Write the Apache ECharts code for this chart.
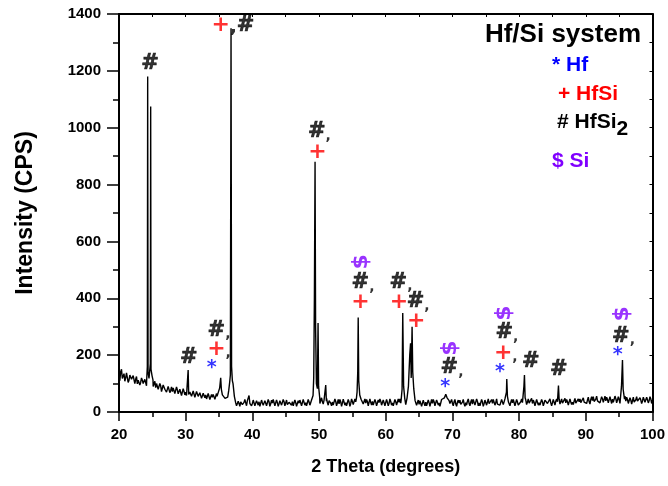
<!DOCTYPE html>
<html><head><meta charset="utf-8">
<script src="https://cdn.jsdelivr.net/npm/echarts@6/dist/echarts.min.js"></script>
<style>html,body{margin:0;padding:0;background:#fff}#c{width:668px;height:486px}</style>
</head><body><div id="c"></div>
<script>
// Baseline intensity, 0.25 degree steps from 20 to 100
var baseStart = 20, baseStep = 0.25;
var baseline = [
128,142,118,135, 120,131,112,126, 108,122,115,99, 118,104,112,96, 110,100,115,108,
102,95,86,98, 84,92,79,88, 82,74,86,76, 72,84,70,78, 66,75,62,72,
70,64,58,68, 62,70,58,66, 56,64,52,60, 60,50,58,48, 52,60,50,58,
55,62,58,54, 58,52,50,60, 45,38,32,28, 30,36,26,34, 32,40,58,36,
30,35,28,33, 36,27,32,30, 34,28,36,29, 31,37,27,33, 29,35,30,36,
32,26,34,30, 36,29,33,27, 31,38,28,34, 33,27,35,30, 37,32,38,34,
48,40,36,42, 38,33,40,31, 35,30,37,32, 29,36,31,38, 33,28,35,30,
37,31,36,40, 42,48,38,34, 31,36,29,34, 37,30,35,28, 33,38,30,36,
29,34,31,37, 32,28,36,30, 34,31,38,36, 28,34,40,44, 48,42,35,30,
27,33,25,31, 35,28,33,26, 30,36,29,34, 32,27,38,42, 55,46,38,33,
30,36,28,34, 31,27,35,29, 33,38,30,35, 28,34,31,37, 32,27,35,30,
36,31,29,34, 30,37,33,28, 35,31,38,33, 40,36,30,34, 32,37,29,35,
31,36,33,38, 42,35,31,36, 30,34,28,37, 33,29,36,31, 35,30,37,32,
29,34,38,36, 40,34,31,37, 32,36,30,35, 34,38,31,37, 36,33,40,35,
38,42,36,44, 40,37,45,39, 43,38,46,41, 39,44,37,42, 45,40,47,42,
44,48,43,47, 38,44,36,42, 40,35,43,38, 36,42,39,45, 38,43,40,46,
42
];
// Intermediate baseline readings, 0.25 degree steps from 20.125
var midStart = 20.125;
var baselineMid = [
110,150,125,108, 138,104,130,115, 128,100,125,112, 95,120,100,115, 92,100,100,100,
90,108,100,80, 100,72,95,80, 70,90,68,88, 85,65,88,64, 80,58,82,60,
58,80,70,55, 74,52,72,55, 68,48,66,50, 46,65,44,62, 62,45,65,45,
60,50,66,48, 48,64,44,40, 30,45,22,38, 20,42,24,44, 22,46,30,22,
42,22,40,24, 20,42,24,40, 22,44,20,42, 44,22,42,20, 40,24,44,22,
42,20,40,24, 22,42,20,40, 42,22,44,24, 22,44,24,42, 26,44,26,48,
30,50,28,48, 48,24,46,22, 24,46,22,44, 44,20,45,24, 22,44,20,46,
26,46,26,50, 34,52,28,46, 44,22,46,24, 24,44,22,42, 46,24,42,22,
44,22,46,24, 22,44,24,46, 46,24,44,26, 40,22,48,36, 36,52,24,42,
40,20,42,22, 22,42,20,44, 44,22,42,24, 20,44,26,48, 44,58,30,44,
22,44,20,42, 42,22,44,20, 24,46,22,44, 44,24,46,22, 22,44,20,42,
24,46,22,44, 44,24,46,22, 24,44,26,46, 28,46,22,44, 44,22,44,24,
22,46,24,48, 26,46,24,48, 42,22,44,24, 24,44,22,42, 44,24,46,22,
44,24,46,28, 28,46,24,48, 44,24,46,26, 26,48,24,46, 46,26,50,28,
30,52,28,54, 54,30,56,32, 32,54,34,56, 52,32,54,30, 34,56,32,54,
30,58,34,56, 52,30,50,28, 52,30,54,32, 50,30,52,34, 52,32,54,30
];
// Diffraction peaks [2theta, intensity]
var peak24 = [[24.15,112],[24.25,160],[24.3,1180],[24.36,140],[24.5,118],[24.65,125],[24.7,170],[24.75,1075],[24.8,150],[24.95,128],[25.1,112]];
var peak30 = [[30.3,64],[30.37,148],[30.45,62]];
var peak35 = [[34.7,55],[34.9,70],[35.1,85],[35.25,120],[35.35,80],[35.5,60],[35.7,55],[35.9,48],[36.1,45],[36.3,52]];
var peak37 = [[36.45,75],[36.6,105],[36.7,130],[36.8,1350],[36.88,160],[37.0,110],[37.1,100],[37.3,55],[37.5,32]];
var peak49 = [[49.1,58],[49.2,120],[49.3,400],[49.4,880],[49.48,300],[49.6,100],[49.75,82],[49.85,313],[49.93,90],[50.1,50]];
var peak51 = [[50.9,40],[51.0,95],[51.1,38]];
var peak56 = [[55.6,48],[55.7,70],[55.8,140],[55.87,332],[55.95,110],[56.1,60],[56.3,45]];
var peak63 = [[62.3,40],[62.45,80],[62.55,348],[62.68,90],[62.85,48],[63.0,26],[63.2,50],[63.4,90],[63.6,200],[63.72,242],[63.82,120],[63.95,300],[64.05,140],[64.2,82],[64.4,40]];
var peak69 = [[68.6,40],[68.8,50],[69.0,62],[69.2,50],[69.5,40]];
var peak78 = [[78.0,40],[78.1,70],[78.15,116],[78.25,55],[78.4,35]];
var peak81 = [[80.6,40],[80.72,90],[80.8,130],[80.9,50]];
var peak86 = [[85.8,40],[85.9,93],[86.0,45]];
var peak95 = [[95.2,50],[95.35,90],[95.5,183],[95.6,80],[95.8,45]];
var peaks = [peak24,peak30,peak35,peak37,peak49,peak51,peak56,peak63,peak69,peak78,peak81,peak86,peak95];

// Phase annotations [2theta, intensity, text]
var annotations = [
  [24.64,1224,'{h|#}'],
  [37.1,1361,'{p|+}{k|,}{h|#}'],
  [30.47,193,'{h|#}'],
  [35.0,288,'{h|#}{c|,}'],
  [35.0,222,'{p|+}{c|,}'],
  [33.9,155,'{s|*}'],
  [50.05,985,'{h|#}{c|,}'],
  [49.76,915,'{p|+}'],
  [56.6,454,'{h|#}{c|,}'],
  [56.2,387,'{p|+}'],
  [62.3,457,'{h|#}{c|,}'],
  [62.0,387,'{p|+}'],
  [64.86,387,'{h|#}{c|,}'],
  [64.56,320,'{p|+}'],
  [69.94,155,'{h|#}{c|,}'],
  [68.9,88,'{s|*}'],
  [78.17,278,'{h|#}{c|,}'],
  [78.0,207,'{p|+}{c|,}'],
  [77.12,141,'{s|*}'],
  [81.76,179,'{h|#}'],
  [85.94,148,'{h|#}'],
  [95.66,267,'{h|#}{c|,}'],
  [94.77,200,'{s|*}']
];
// Si markers [2theta, intensity]
var siMarks = [[56.34,528],[69.64,225],[77.72,348],[95.51,345]];
var xTicks = [20,30,40,50,60,70,80,90,100];
var yTicks = [0,200,400,600,800,1000,1200,1400];

// Build the pattern
var pts = [];
function addBase(arr, start){
  arr.forEach(function(v,i){
    var x = start + i*baseStep;
    var inside = peaks.some(function(p){ return x >= p[0][0] && x <= p[p.length-1][0]; });
    if(!inside) pts.push([x,v]);
  });
}
addBase(baseline, baseStart);
addBase(baselineMid, midStart);
peaks.forEach(function(p){ p.forEach(function(q){ pts.push(q); }); });
pts.sort(function(a,b){return a[0]-b[0];});

var F = 'Liberation Sans';
var G = 'DejaVu Sans';
var rich = {
  h:{color:'#000',fontSize:21,fontWeight:'bold',fontFamily:G,textBorderColor:'#000',textBorderWidth:0.7},
  c:{color:'#000',fontSize:14,fontWeight:'bold',fontFamily:G,padding:[8,0,0,0]},
  k:{color:'#000',fontSize:18,fontWeight:'bold',fontFamily:G,padding:[4,0,0,0]},
  p:{color:'#ff0000',fontSize:22,fontWeight:'bold',fontFamily:G},
  s:{color:'#0000ff',fontSize:19,fontWeight:'bold',fontFamily:G}
};

var chart = echarts.init(document.getElementById('c'));
var labelFont = {color:'#000',fontSize:15,fontWeight:'bold',fontFamily:F};
chart.setOption({
  animation:false,
  backgroundColor:'#fff',
  grid:{left:119,right:14,top:14,bottom:74,containLabel:false},
  xAxis:[{
    type:'value',min:xTicks[0],max:xTicks[xTicks.length-1],interval:10,
    name:'2 Theta (degrees)',nameLocation:'middle',nameGap:46,
    nameTextStyle:{color:'#000',fontSize:18,fontWeight:'bold',fontFamily:F},
    axisLine:{onZero:false,lineStyle:{color:'#000',width:2}},
    axisTick:{length:9,lineStyle:{color:'#000',width:1.5}},
    minorTick:{show:true,splitNumber:2,length:5,lineStyle:{color:'#000',width:1.5}},
    axisLabel:Object.assign({margin:15},labelFont),
    splitLine:{show:false}
  },{
    type:'value',position:'top',min:20,max:100,interval:10,
    axisLine:{onZero:false,lineStyle:{color:'#000',width:2}},
    axisTick:{inside:true,length:3,lineStyle:{color:'#000'}},
    minorTick:{show:true,splitNumber:2,length:3,lineStyle:{color:'#000'}},
    axisLabel:{show:false},splitLine:{show:false}
  }],
  yAxis:[{
    type:'value',min:yTicks[0],max:yTicks[yTicks.length-1],interval:200,
    name:'Intensity (CPS)',nameLocation:'middle',nameGap:82,
    nameTextStyle:{color:'#000',fontSize:23,fontWeight:'bold',fontFamily:F},
    axisLine:{show:true,onZero:false,lineStyle:{color:'#000',width:2}},
    axisTick:{show:true,length:12,lineStyle:{color:'#000',width:1.5}},
    minorTick:{show:true,splitNumber:2,length:6,lineStyle:{color:'#000',width:1.5}},
    axisLabel:Object.assign({margin:18,formatter:function(v){return String(v);}},labelFont),
    splitLine:{show:false}
  },{
    type:'value',position:'right',min:0,max:1400,interval:200,
    axisLine:{show:true,onZero:false,lineStyle:{color:'#000',width:2}},
    axisTick:{show:true,inside:true,length:3,lineStyle:{color:'#000'}},
    minorTick:{show:true,splitNumber:2,length:3,lineStyle:{color:'#000'}},
    axisLabel:{show:false},splitLine:{show:false}
  }],
  series:[{
    type:'line',data:pts,showSymbol:false,symbol:'none',
    lineStyle:{color:'#000',width:1.4},sampling:null,z:2
  },{
    type:'scatter',symbolSize:0,z:5,
    data:annotations.map(function(a){return {value:[a[0],a[1]],name:a[2]};}),
    label:{show:true,position:'inside',formatter:function(p){return p.name;},rich:rich}
  },{
    type:'scatter',symbolSize:0,z:5,
    data:siMarks,
    label:{show:true,position:'inside',formatter:'$',rotate:90,
      color:'#8000ff',fontSize:22,fontWeight:'bold',fontFamily:G}
  }],
  graphic:[
    {type:'text',right:27,top:22,style:{text:'Hf/Si system',fill:'#000',font:'bold 26px "Liberation Sans"'}},
    {type:'text',left:552,top:55,style:{text:'* Hf',fill:'#0000ff',font:'bold 21px "Liberation Sans"'}},
    {type:'text',left:558,top:84,style:{text:'+ HfSi',fill:'#ff0000',font:'bold 21px "Liberation Sans"'}},
    {type:'text',left:557,top:112,style:{
      text:'{a|# HfSi}{b|2}',
      rich:{a:{fill:'#000',font:'bold 21px "Liberation Sans"'},b:{fill:'#000',font:'bold 21px "Liberation Sans"',padding:[14,0,0,0]}}}},
    {type:'text',left:552,top:151,style:{text:'$ Si',fill:'#8000ff',font:'bold 21px "Liberation Sans"'}}
  ]
});
</script></body></html>
